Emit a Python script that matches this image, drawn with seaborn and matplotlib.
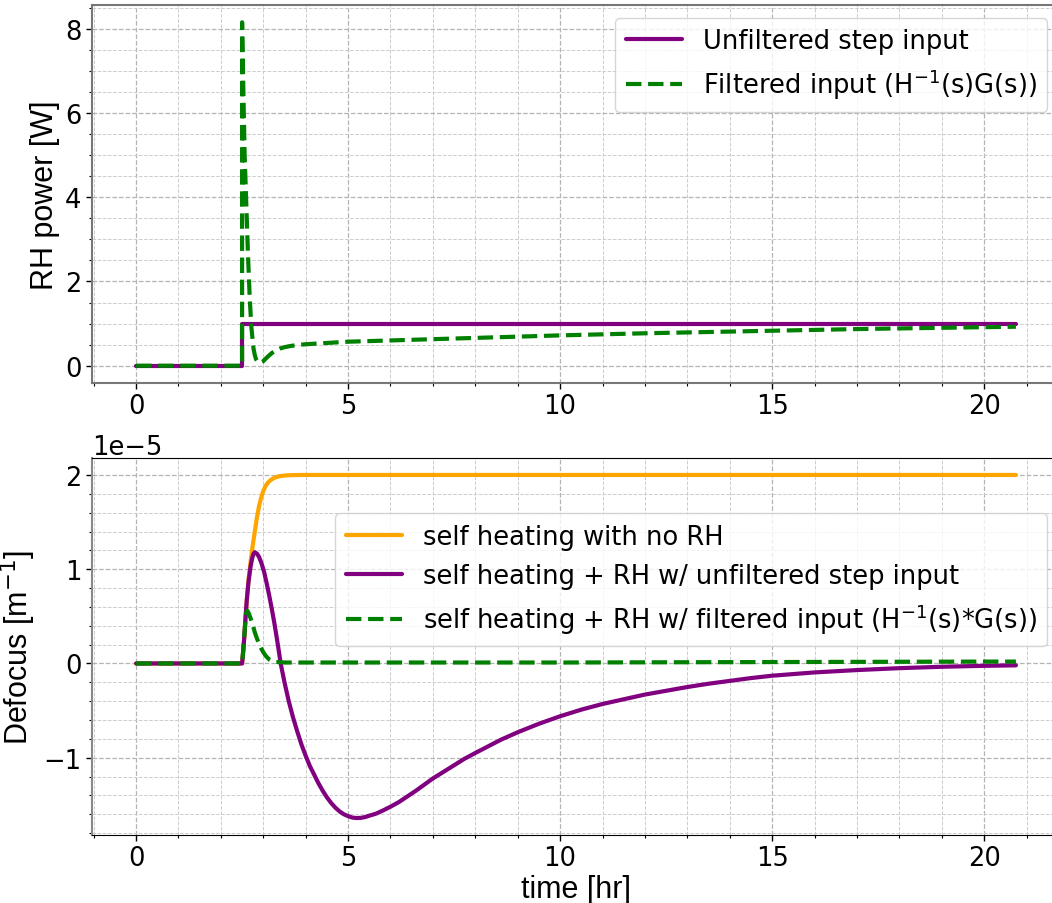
import numpy as np
import pandas as pd
import matplotlib
matplotlib.use("Agg")
import matplotlib.pyplot as plt
import seaborn as sns
from matplotlib import font_manager as fm
from matplotlib.ticker import MultipleLocator

# ---------------- data ----------------
# top panel: RH power [W]
step_t = [0.0, 2.5, 2.5, 20.75]
step_p = [0.0, 0.0, 1.0, 1.0]

filt_t = [0.0, 2.5, 2.5, 2.53, 2.56, 2.6, 2.64, 2.68, 2.72, 2.77, 2.8, 2.83, 2.87,
          2.9, 2.94, 2.98, 3.03, 3.1, 3.2, 3.3, 3.4, 3.5, 3.65, 3.8, 4.0, 4.5, 5.0,
          6.0, 7.0, 8.0, 9.0, 10.0, 11.0, 12.0, 13.0, 14.0, 15.0, 16.0, 17.0, 18.0,
          19.0, 20.0, 20.75]
filt_p = [0.0, 0.0, 8.15, 6.5, 5.0, 3.8, 2.6, 1.6, 0.9, 0.4, 0.25, 0.15, 0.09,
          0.07, 0.07, 0.09, 0.14, 0.21, 0.3, 0.36, 0.41, 0.44, 0.47, 0.49, 0.51, 0.54, 0.57,
          0.6, 0.63, 0.66, 0.69, 0.72, 0.745, 0.77, 0.79, 0.81, 0.83, 0.85, 0.87, 0.885,
          0.9, 0.915, 0.925]

# bottom panel: defocus [1e-5 m^-1]
self_t = [0.0, 2.5, 2.52, 2.55, 2.58, 2.61, 2.65, 2.7, 2.75, 2.8, 2.85, 2.9, 2.95,
          3.0, 3.05, 3.1, 3.17, 3.24, 3.32, 3.4, 3.5, 3.65, 3.9, 5.0, 10.0, 15.0, 20.75]
self_d = [0.0, 0.0, 0.1, 0.27, 0.48, 0.67, 0.88, 1.08, 1.25, 1.4, 1.55, 1.67, 1.76,
          1.83, 1.88, 1.915, 1.945, 1.965, 1.98, 1.988, 1.994, 1.998, 2.0, 2.0, 2.0, 2.0, 2.0]

unf_t = [0.0, 2.5, 2.52, 2.55, 2.58, 2.61, 2.65, 2.7, 2.74, 2.77, 2.8, 2.85, 2.9,
         2.96, 3.02, 3.08, 3.14, 3.2, 3.26, 3.32, 3.37, 3.41, 3.5, 3.6, 3.7, 3.8, 3.9,
         4.0, 4.1, 4.2, 4.3, 4.4, 4.5, 4.6, 4.7, 4.8, 4.9, 5.0, 5.1, 5.2, 5.3, 5.4,
         5.5, 5.65, 5.8, 6.0, 6.2, 6.4, 6.6, 6.8, 7.0, 7.25, 7.5, 7.75, 8.0, 8.3, 8.6,
         9.0, 9.5, 10.0, 10.5, 11.0, 11.5, 12.0, 12.5, 13.0, 13.5, 14.0, 14.5, 15.0,
         16.0, 17.0, 18.0, 19.0, 20.0, 20.75]
unf_d = [0.0, 0.0, 0.1, 0.27, 0.48, 0.67, 0.86, 1.03, 1.12, 1.165, 1.18, 1.165, 1.13,
         1.06, 0.97, 0.85, 0.72, 0.58, 0.43, 0.265, 0.12, 0.0, -0.2, -0.4, -0.57, -0.72, -0.86,
         -0.98, -1.09, -1.18, -1.27, -1.35, -1.42, -1.48, -1.53, -1.57, -1.60, -1.62, -1.635, -1.64, -1.638, -1.63,
         -1.615, -1.595, -1.565, -1.52, -1.47, -1.41, -1.35, -1.285, -1.22, -1.15, -1.08, -1.01, -0.95, -0.88, -0.81,
         -0.73, -0.64, -0.56, -0.49, -0.43, -0.38, -0.33, -0.29, -0.25, -0.215, -0.185, -0.155, -0.13,
         -0.095, -0.07, -0.05, -0.035, -0.025, -0.02]

flt_t = [0.0, 2.5, 2.52, 2.55, 2.58, 2.6, 2.62, 2.65, 2.7, 2.75, 2.8, 2.85, 2.9,
         2.95, 3.0, 3.05, 3.1, 3.15, 3.2, 3.3, 3.5, 5.0, 10.0, 15.0, 20.0, 20.75]
flt_d = [0.0, 0.0, 0.1, 0.28, 0.46, 0.54, 0.56, 0.54, 0.48, 0.41, 0.33, 0.265, 0.21,
         0.16, 0.12, 0.085, 0.06, 0.04, 0.028, 0.016, 0.01, 0.01, 0.01, 0.015, 0.02, 0.02]
SCALE = 1e-5

# ---------------- style ----------------
sns.set_style("ticks")
plt.rcParams["font.family"] = ["DejaVu Sans"]
plt.rcParams["mathtext.fontset"] = "dejavusans"
for k in ("text.color", "axes.labelcolor", "xtick.color", "ytick.color"):
    plt.rcParams[k] = "black"


def label_font(size):
    # regular (non-narrow) Liberation Sans, Arial-like
    for f in fm.fontManager.ttflist:
        fn = f.fname.lower()
        if f.name == "Liberation Sans" and "narrow" not in fn and f.style == "normal" \
                and f.weight in (400, "normal", "regular"):
            return fm.FontProperties(fname=f.fname, size=size)
    return fm.FontProperties(family="DejaVu Sans", size=size)


fig = plt.figure(figsize=(10.52, 9.04), dpi=100)
W, H = 1052.0, 904.0
ax1 = fig.add_axes([92 / W, 1 - 384 / H, (1060 - 92) / W, (384 - 6) / H])
ax2 = fig.add_axes([92 / W, 1 - 836 / H, (1060 - 92) / W, (836 - 459) / H])

PURPLE = "purple"
GREEN = "green"
ORANGE = "orange"

df_step = pd.DataFrame({"t": step_t, "p": step_p})
df_filt = pd.DataFrame({"t": filt_t, "p": filt_p})
sns.lineplot(data=df_step, x="t", y="p", ax=ax1, color=PURPLE, lw=3, sort=False,
             estimator=None, label="Unfiltered step input")
sns.lineplot(data=df_filt, x="t", y="p", ax=ax1, color=GREEN, lw=3, ls="--", sort=False,
             estimator=None, label="Filtered input (H$^{-1}$(s)G(s))")

df_self = pd.DataFrame({"t": self_t, "d": np.array(self_d) * SCALE})
df_unf = pd.DataFrame({"t": unf_t, "d": np.array(unf_d) * SCALE})
df_flt = pd.DataFrame({"t": flt_t, "d": np.array(flt_d) * SCALE})
sns.lineplot(data=df_self, x="t", y="d", ax=ax2, color=ORANGE, lw=3, sort=False,
             estimator=None, label="self heating with no RH")
sns.lineplot(data=df_unf, x="t", y="d", ax=ax2, color=PURPLE, lw=3, sort=False,
             estimator=None, label="self heating + RH w/ unfiltered step input")
sns.lineplot(data=df_flt, x="t", y="d", ax=ax2, color=GREEN, lw=3, ls="--", sort=False,
             estimator=None, label="self heating + RH w/ filtered input (H$^{-1}$(s)*G(s))")

for ax in (ax1, ax2):
    ax.set_xlim(-1.04, 21.79)
    ax.xaxis.set_major_locator(MultipleLocator(5))
    ax.xaxis.set_minor_locator(MultipleLocator(1))
    ax.grid(which="major", ls="--", color="#b4b4b4", lw=0.9)
    ax.grid(which="minor", ls="--", color="#cdcdcd", lw=0.7)
    ax.set_axisbelow(True)
    ax.tick_params(which="major", labelsize=18.5, length=4, width=1, direction="out")
    ax.tick_params(which="minor", length=2.5, width=0.8, direction="out")
    ax.spines["right"].set_visible(False)

ax1.set_ylim(-0.41, 8.56)
ax1.yaxis.set_major_locator(MultipleLocator(2))
ax1.yaxis.set_minor_locator(MultipleLocator(0.5))
ax2.set_ylim(-1.82e-5, 2.18e-5)
ax2.yaxis.set_major_locator(MultipleLocator(1e-5))
ax2.yaxis.set_minor_locator(MultipleLocator(0.2e-5))
ax2.yaxis.get_offset_text().set_fontsize(18.5)

for s in ("top", "bottom", "left"):
    ax1.spines[s].set_color("#777777")
    ax1.spines[s].set_linewidth(1.5)
ax2.spines["left"].set_color("#888888")
ax2.spines["left"].set_linewidth(1.5)
ax2.spines["top"].set_color("black")
ax2.spines["bottom"].set_color("black")

ax1.set_xlabel("")
ax1.set_ylabel("RH power [W]", fontproperties=label_font(22))
ax2.set_xlabel("time [hr]", fontproperties=label_font(22), labelpad=2)
ax2.set_ylabel("Defocus [m$^{-1}$]", fontproperties=label_font(22))

ax1.legend(loc="upper right", fontsize=18.5, handlelength=2.2)
ax2.legend(loc="upper right", bbox_to_anchor=(1.0, 0.887), fontsize=18.5, handlelength=2.2)

fig.savefig("out.png", dpi=100)
